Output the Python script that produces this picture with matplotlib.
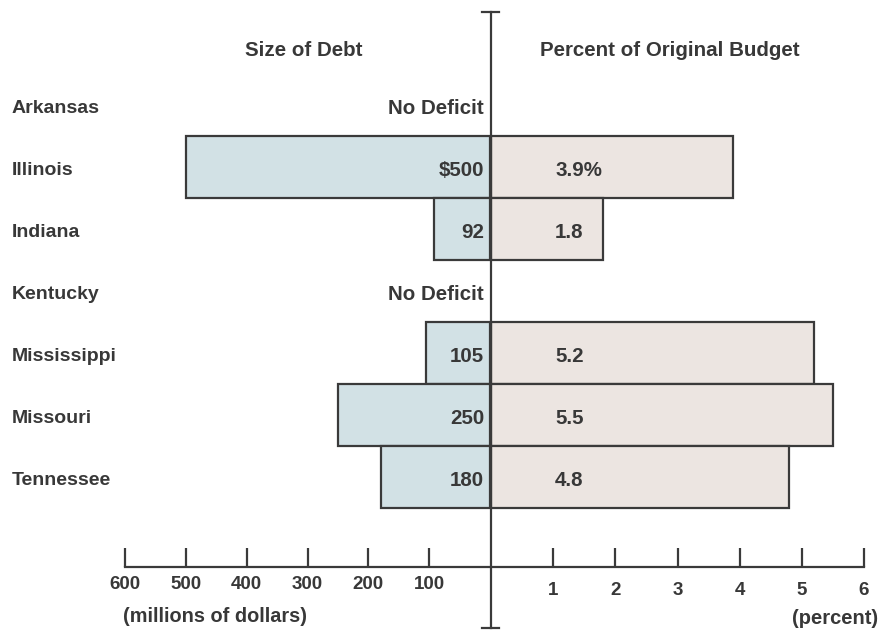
import matplotlib
matplotlib.use("Agg")
import matplotlib.pyplot as plt
from matplotlib.lines import Line2D
from matplotlib.transforms import blended_transform_factory, offset_copy

plt.rcParams['font.family'] = ['Liberation Sans', 'DejaVu Sans']
plt.rcParams['font.weight'] = 'bold'

states = ["Arkansas", "Illinois", "Indiana", "Kentucky", "Mississippi", "Missouri", "Tennessee"]
debt = [None, 500, 92, None, 105, 250, 180]          # millions of dollars
debt_labels = ["No Deficit", "$500", "92", "No Deficit", "105", "250", "180"]
pct = [None, 3.9, 1.8, None, 5.2, 5.5, 4.8]          # percent of original budget
pct_labels = ["", "3.9%", "1.8", "", "5.2", "5.5", "4.8"]
debt_ticks = [600, 500, 400, 300, 200, 100]
pct_ticks = [1, 2, 3, 4, 5, 6]

TXT = "#383838"
EDGE = "#3a3a3a"
BLUE = "#d2e1e5"
PINK = "#ece5e1"

W, H = 881, 630
fig = plt.figure(figsize=(W / 100, H / 100), dpi=100)
fig.patch.set_facecolor("white")

bottom = 1 - 567 / H
height = (567 - 12) / H
axL = fig.add_axes([125 / W, bottom, 365 / W, height])
axR = fig.add_axes([491 / W, bottom, 373 / W, height])

rows = list(range(len(states)))
for ax in (axL, axR):
    ax.set_ylim(7.452, -1.5)
    ax.set_facecolor("none")
    for s in ("top", "left", "right"):
        ax.spines[s].set_visible(False)
    ax.spines["bottom"].set_linewidth(1.6)
    ax.spines["bottom"].set_color(EDGE)
    ax.set_yticks([])
    ax.tick_params(axis="x", direction="in", length=13.5, width=1.6, color=EDGE,
                   labelsize=13.5, labelcolor=TXT)

axL.set_xlim(600, 0)
axR.set_xlim(0, 6)
axL.set_xticks(debt_ticks)
axL.set_xticklabels([str(t) for t in debt_ticks], fontweight="bold")
axL.tick_params(axis="x", pad=6.5)
axR.set_xticks(pct_ticks)
axR.set_xticklabels([str(t) for t in pct_ticks], fontweight="bold")
axR.tick_params(axis="x", pad=11)

for i in rows:
    if debt[i] is not None:
        axL.barh(i, debt[i], height=1.0, color=BLUE, edgecolor=EDGE, linewidth=1.6, zorder=2)
    if pct[i] is not None:
        axR.barh(i, pct[i], height=1.0, color=PINK, edgecolor=EDGE, linewidth=1.6, zorder=2)

# value labels
tL = offset_copy(axL.transData, fig=fig, x=-6, y=0, units="dots")
tR = offset_copy(axR.transData, fig=fig, x=64, y=0, units="dots")
for i in rows:
    axL.text(0, i + 0.05, debt_labels[i], transform=tL, ha="right", va="center",
             fontsize=14.8, fontweight="bold", color=TXT, zorder=3)
    if pct_labels[i]:
        axR.text(0, i + 0.05, pct_labels[i], transform=tR, ha="left", va="center",
                 fontsize=14.8, fontweight="bold", color=TXT, zorder=3)

# state names
tS = blended_transform_factory(fig.transFigure, axL.transData)
for i in rows:
    axL.text(12 / W, i + 0.05, states[i], transform=tS, ha="left", va="center",
             fontsize=14, fontweight="bold", color=TXT, clip_on=False)

# headings
fig.text(304 / W, 1 - 50 / H, "Size of Debt", ha="center", va="center",
         fontsize=14.8, fontweight="bold", color=TXT)
fig.text(670 / W, 1 - 50 / H, "Percent of Original Budget", ha="center", va="center",
         fontsize=14.8, fontweight="bold", color=TXT)

# unit labels
fig.text(123 / W, 1 - 616 / H, "(millions of dollars)", ha="left", va="center",
         fontsize=14.3, fontweight="bold", color=TXT)
fig.text(878 / W, 1 - 619 / H, "(percent)", ha="right", va="center",
         fontsize=14.5, fontweight="bold", color=TXT)

# central vertical axis with end caps
cx = 490.5 / W
fig.add_artist(Line2D([cx, cx], [1 - 12 / H, 1 - 628 / H], color=EDGE, lw=1.6,
                      transform=fig.transFigure, zorder=5))
for yy in (12, 628):
    fig.add_artist(Line2D([482 / W, 499 / W], [1 - yy / H, 1 - yy / H], color=EDGE,
                          lw=1.6, transform=fig.transFigure, zorder=5))

fig.savefig("out.png", dpi=100, facecolor="white")
